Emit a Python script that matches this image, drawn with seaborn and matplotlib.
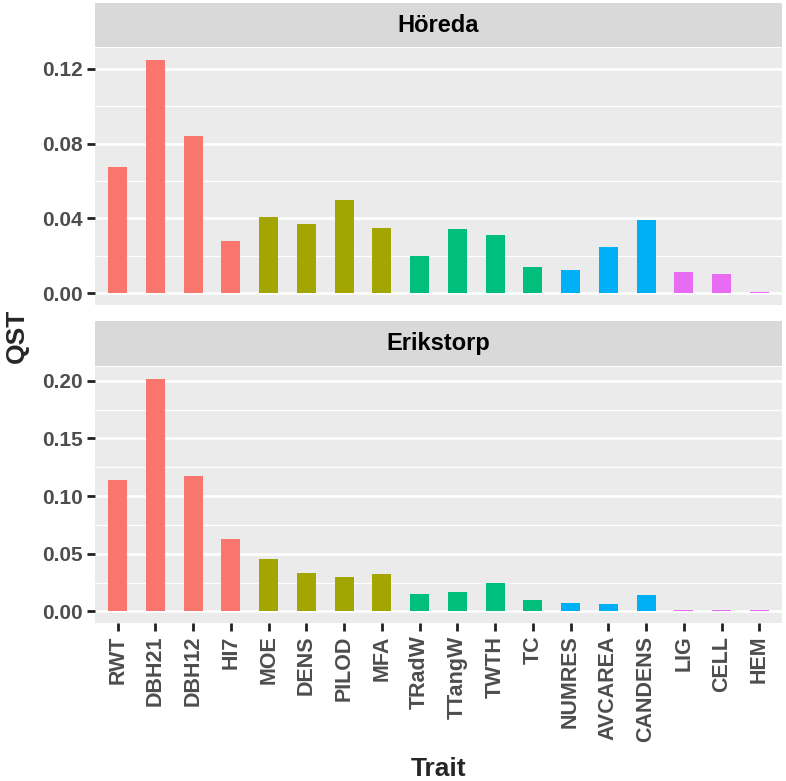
import numpy as np
import pandas as pd
import matplotlib
matplotlib.use("Agg")
import matplotlib.pyplot as plt
import seaborn as sns

traits = ["RWT", "DBH21", "DBH12", "HI7", "MOE", "DENS", "PILOD", "MFA",
          "TRadW", "TTangW", "TWTH", "TC", "NUMRES", "AVCAREA", "CANDENS",
          "LIG", "CELL", "HEM"]
groups = ["growth"] * 4 + ["wood"] * 4 + ["ring"] * 4 + ["canal"] * 3 + ["chem"] * 3
hoereda = [0.0677, 0.1248, 0.0838, 0.0280, 0.0409, 0.0370, 0.0498, 0.0348,
           0.0198, 0.0341, 0.0314, 0.0138, 0.0125, 0.0250, 0.0393,
           0.0114, 0.0103, 0.0007]
erikstorp = [0.1140, 0.2018, 0.1177, 0.0626, 0.0451, 0.0333, 0.0299, 0.0325,
             0.0152, 0.0167, 0.0244, 0.0095, 0.0075, 0.0064, 0.0146,
             0.0016, 0.0009, 0.0009]
sites = ["Höreda", "Erikstorp"]
yticks = {"Höreda": [0.00, 0.04, 0.08, 0.12],
          "Erikstorp": [0.00, 0.05, 0.10, 0.15, 0.20]}
palette = {"growth": "#F8766D", "wood": "#A3A500", "ring": "#00BF7D",
           "canal": "#00B0F6", "chem": "#E76BF3"}

df = pd.concat([
    pd.DataFrame({"Trait": traits, "group": groups, "QST": hoereda, "site": "Höreda"}),
    pd.DataFrame({"Trait": traits, "group": groups, "QST": erikstorp, "site": "Erikstorp"}),
])

sns.set_style("white")
plt.rcParams["font.family"] = ["Liberation Sans", "DejaVu Sans"]

fig = plt.figure(figsize=(7.86, 7.81), dpi=100)
W, H = 786, 781
left, right = 95, 782
panels = {"Höreda": (48, 305, 3, 47), "Erikstorp": (367, 623, 321, 366)}

for site in sites:
    top, bot, stop, sbot = panels[site]
    ax = fig.add_axes([left / W, (H - bot) / H, (right - left) / W, (bot - top) / H])
    sub = df[df["site"] == site]
    ax.set_facecolor("#EBEBEB")
    m = sub["QST"].max()
    ticks = yticks[site]
    step = ticks[1] - ticks[0]
    for t in ticks:
        ax.axhline(t, color="white", lw=1.8, zorder=0)
        ax.axhline(t + step / 2, color="white", lw=0.9, zorder=0)
    sns.barplot(data=sub, x="Trait", y="QST", hue="group", order=traits,
                palette=palette, dodge=False, width=0.5, legend=False,
                saturation=1, linewidth=0, ax=ax, zorder=2)
    ax.set_ylim(-0.05 * m, 1.05 * m)
    ax.set_xlim(-0.6, len(traits) - 0.4)
    ax.set_yticks(ticks)
    ax.set_yticklabels([f"{t:.2f}" for t in ticks], fontsize=15,
                       fontweight="bold", color="#4D4D4D")
    ax.tick_params(axis="both", left=True, bottom=True, length=6, width=2,
                   color="#222222", pad=3)
    for s in ax.spines.values():
        s.set_visible(False)
    ax.set_ylabel("")
    ax.set_xlabel("")
    ax.set_xticks(range(len(traits)))
    if site == "Höreda":
        ax.set_xticklabels([])
        ax.tick_params(axis="x", bottom=False, length=0)
    else:
        ax.set_xticklabels(traits, rotation=90, fontsize=15.5, fontweight="bold",
                           color="#4D4D4D")
        ax.set_xlabel("Trait", fontsize=19, fontweight="bold", labelpad=11)
    sax = fig.add_axes([left / W, (H - sbot) / H, (right - left) / W, (sbot - stop) / H])
    sax.set_facecolor("#D9D9D9")
    sax.set_xticks([])
    sax.set_yticks([])
    for s in sax.spines.values():
        s.set_visible(False)
    sax.text(0.5, 0.5, site, ha="center", va="center", fontsize=17,
             fontweight="bold", color="black", transform=sax.transAxes)

fig.text(0.022, (H - 336) / H, "QST", rotation=90, ha="center", va="center",
         fontsize=19, fontweight="bold")

fig.savefig("out.png", dpi=100)
